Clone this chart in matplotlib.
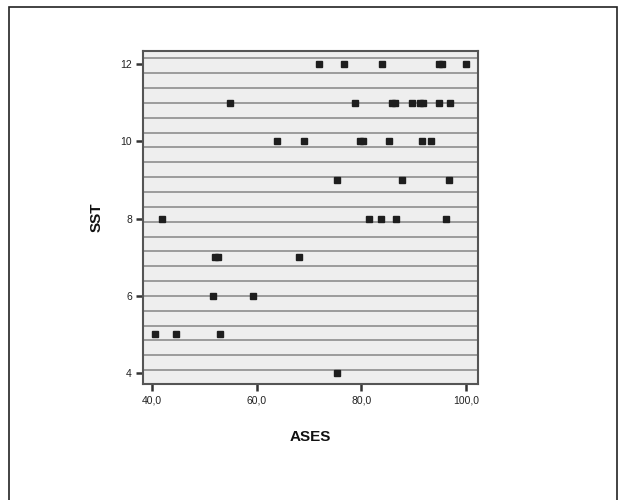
import matplotlib
matplotlib.use("Agg")
import matplotlib.pyplot as plt
from matplotlib.patches import Rectangle

plt.rcParams['font.family'] = ['Liberation Sans', 'DejaVu Sans']

# Data
ases = [72.0, 76.6, 84.0, 94.8, 95.4, 100.0,
        54.9, 78.7, 85.8, 86.5, 89.7, 91.2, 91.7, 94.8, 97.0,
        63.8, 69.1, 79.8, 80.4, 85.2, 91.6, 93.4,
        75.3, 87.7, 96.8,
        41.9, 81.4, 83.8, 86.7, 96.1,
        52.0, 52.6, 68.0,
        51.7, 59.3,
        40.6, 44.6, 53.0,
        75.3]
sst = [12, 12, 12, 12, 12, 12,
       11, 11, 11, 11, 11, 11, 11, 11, 11,
       10, 10, 10, 10, 10, 10, 10,
       9, 9, 9,
       8, 8, 8, 8, 8,
       7, 7, 7,
       6, 6,
       5, 5, 5,
       4]
x_ticks = [40, 60, 80, 100]
x_tick_labels = ["40,0", "60,0", "80,0", "100,0"]
y_ticks = [4, 6, 8, 10, 12]
y_tick_labels = ["4", "6", "8", "10", "12"]

fig = plt.figure(figsize=(6.24, 5.0), dpi=100)
fig.patch.set_facecolor('white')

# outer frame
fig.add_artist(Rectangle((9/624, -0.05), (617-9)/624, 1.05 - 7/500,
                         transform=fig.transFigure, fill=False,
                         edgecolor='#222222', linewidth=1.2))

ax = fig.add_axes([143/624, 1-384/500, (478-143)/624, (384-51)/500])
ax.set_facecolor('#eeeeee')

# horizontal line pattern of the plot background
h = 384 - 51
for k in range(22):
    ypix = 58.3 + k*14.85 - 51
    yf = 1 - ypix/h
    ax.plot([0, 1], [yf, yf], transform=ax.transAxes,
            color='#959595', linewidth=1.3, zorder=1)

ax.plot(ases, sst, linestyle='none', marker='s', markersize=3.7,
        color='#1e1e1e', zorder=3)

ax.set_xlim(38.28, 102.29)
ax.set_ylim(3.715, 12.345)
ax.set_xticks(x_ticks)
ax.set_xticklabels(x_tick_labels)
ax.set_yticks(y_ticks)
ax.set_yticklabels(y_tick_labels)
ax.tick_params(direction='out', length=5, width=1.8, colors='#333333',
               labelsize=7.5, pad=3)
for lab in ax.get_xticklabels() + ax.get_yticklabels():
    lab.set_color('#222222')

for s in ax.spines.values():
    s.set_color('#555555')
    s.set_linewidth(1.5)

ax.set_xlabel('ASES', fontsize=11, fontweight='bold', labelpad=18, color='#111111')
ax.set_ylabel('SST', fontsize=11, fontweight='bold', labelpad=12, color='#111111')

fig.savefig('out.png', dpi=100)
